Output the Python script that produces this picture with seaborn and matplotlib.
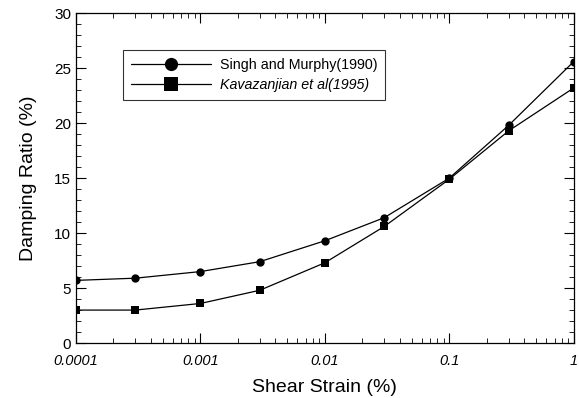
"""Damping ratio vs. shear strain, two published curves (log x-axis)."""

import matplotlib as mpl
import matplotlib.pyplot as plt
import pandas as pd
import seaborn as sns
from matplotlib.ticker import FixedLocator, LogLocator, MultipleLocator, NullFormatter

sns.set_theme(style="ticks")
mpl.rcParams.update(
    {
        "font.family": ["Liberation Sans", "DejaVu Sans"],
        "axes.linewidth": 0.9,
        "axes.edgecolor": "black",
        "axes.labelcolor": "black",
        "text.color": "black",
        "xtick.color": "black",
        "ytick.color": "black",
        "xtick.direction": "in",
        "ytick.direction": "in",
    }
)

STRAIN = [0.0001, 0.0003, 0.001, 0.003, 0.01, 0.03, 0.1, 0.3, 1.0]
SINGH = [5.7, 5.9, 6.5, 7.4, 9.3, 11.4, 15.0, 19.8, 25.6]
KAVAZ = [3.0, 3.0, 3.6, 4.8, 7.3, 10.6, 14.9, 19.3, 23.2]
LABELS = ["Singh and Murphy(1990)", "Kavazanjian et al(1995)"]
X_TICKS = [0.0001, 0.001, 0.01, 0.1, 1]
X_TICK_LABELS = ["0.0001", "0.001", "0.01", "0.1", "1"]


def main():
    df = pd.concat(
        [
            pd.DataFrame({"strain": STRAIN, "damping": SINGH, "source": LABELS[0]}),
            pd.DataFrame({"strain": STRAIN, "damping": KAVAZ, "source": LABELS[1]}),
        ]
    )

    fig = plt.figure(figsize=(5.79, 3.98), dpi=100)
    ax = fig.add_axes([0.131, 0.138, 0.860, 0.829])

    sns.lineplot(
        data=df,
        x="strain",
        y="damping",
        style="source",
        markers={LABELS[0]: "o", LABELS[1]: "s"},
        dashes=False,
        color="black",
        linewidth=0.9,
        markersize=6,
        markeredgewidth=0,
        ax=ax,
    )

    ax.set_xscale("log")
    ax.set_xlim(0.0001, 1)
    ax.set_ylim(0, 30)
    ax.xaxis.set_major_locator(FixedLocator(X_TICKS))
    ax.set_xticklabels(X_TICK_LABELS, fontstyle="italic", fontsize=10.5)
    ax.xaxis.set_minor_locator(LogLocator(base=10, subs=range(2, 10)))
    ax.xaxis.set_minor_formatter(NullFormatter())
    ax.yaxis.set_major_locator(MultipleLocator(5))
    ax.yaxis.set_minor_locator(MultipleLocator(1))
    ax.tick_params(axis="y", labelsize=11)
    ax.tick_params(which="major", length=7, width=0.8, top=True, right=True)
    ax.tick_params(which="minor", length=3.5, width=0.6, top=True, right=True)
    ax.tick_params(axis="x", pad=8)

    ax.set_xlabel("Shear Strain (%)", fontsize=14, labelpad=8)
    ax.set_ylabel("Damping Ratio (%)", fontsize=14, labelpad=12)

    leg = ax.legend(
        loc="upper left",
        bbox_to_anchor=(0.094, 0.888),
        frameon=True,
        fancybox=False,
        edgecolor="black",
        fontsize=10.3,
        handlelength=5.6,
        handletextpad=0.65,
        borderpad=0.55,
        labelspacing=0.42,
        borderaxespad=0,
    )
    leg.get_frame().set_linewidth(0.8)
    leg.get_texts()[1].set_fontstyle("italic")
    for h in leg.legend_handles:
        h.set_markersize(9.5)

    fig.savefig("out.png", dpi=100)


if __name__ == "__main__":
    main()
